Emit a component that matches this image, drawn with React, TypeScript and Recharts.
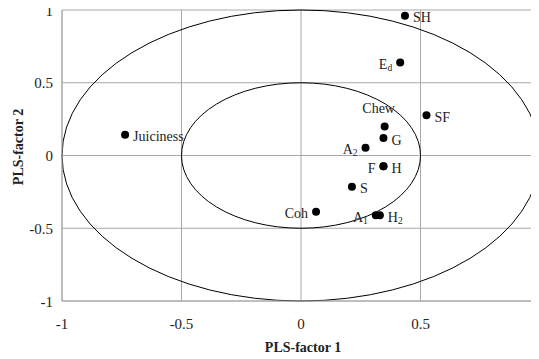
import React from 'react';
import { ScatterChart, Scatter, XAxis, YAxis, CartesianGrid, ReferenceArea } from 'recharts';

const pointBase = ['SH', 'E', 'SF', 'Chew', 'G', 'A', 'F', 'H', 'S', 'Coh', 'A', 'H', 'Juiciness'];
const pointSub = ['', 'd', '', '', '', '2', '', '', '', '', '1', '2', ''];
const factor1 = [0.435, 0.415, 0.525, 0.35, 0.345, 0.27, 0.345, 0.345, 0.213, 0.063, 0.313, 0.33, -0.736];
const factor2 = [0.96, 0.64, 0.276, 0.2, 0.12, 0.053, -0.074, -0.074, -0.214, -0.386, -0.41, -0.41, 0.143];
const labelSide = ['right', 'left', 'right', 'top', 'right', 'left', 'left', 'right', 'right', 'left', 'left', 'right', 'right'];

const xTicks = [-1, -0.5, 0, 0.5, 1];
const yTicks = [-1, -0.5, 0, 0.5, 1];
const outerRadius = 1;
const innerRadius = 0.5;

const data = pointBase.map((b, i) => ({
  x: factor1[i],
  y: factor2[i],
  base: b,
  sub: pointSub[i],
  side: labelSide[i],
}));

const FONT = '"Liberation Serif", "Times New Roman", serif';
const GRAY = '#a8a8a8';

const PointShape = (props: any) => {
  const { cx, cy, payload } = props;
  if (cx == null || cy == null) return null;
  let tx = cx + 8;
  let ty = cy + 6.5;
  let anchor: 'start' | 'end' | 'middle' = 'start';
  if (payload.side === 'left') {
    tx = cx - 8;
    anchor = 'end';
  } else if (payload.side === 'top') {
    tx = cx - 6;
    ty = cy - 13;
    anchor = 'middle';
  }
  return (
    <g>
      <circle cx={cx} cy={cy} r={4} fill="#000" />
      <text x={tx} y={ty} textAnchor={anchor} fontFamily={FONT} fontSize={14} fill="#222">
        {payload.base}
        {payload.sub ? (
          <tspan fontSize={9.5} dy={2}>
            {payload.sub}
          </tspan>
        ) : null}
      </text>
    </g>
  );
};

const EllipseShape = (props: any) => {
  const { x, y, width, height } = props;
  if (x == null) return null;
  return (
    <ellipse
      cx={x + width / 2}
      cy={y + height / 2}
      rx={Math.abs(width) / 2}
      ry={Math.abs(height) / 2}
      fill="none"
      stroke="#000"
      strokeWidth={1}
    />
  );
};

const XTick = (props: any) => {
  const { x, y, payload } = props;
  return (
    <text x={x} y={y + 28} textAnchor="middle" fontFamily={FONT} fontSize={15} fill="#222">
      {payload.value}
    </text>
  );
};

const YTick = (props: any) => {
  const { x, y, payload } = props;
  return (
    <text x={x - 9} y={y + 5.5} textAnchor="end" fontFamily={FONT} fontSize={15} fill="#222">
      {payload.value}
    </text>
  );
};

export default function App() {
  return (
    <div
      style={{
        width: 531,
        height: 359,
        marginTop: -8,
        paddingTop: 4,
        boxSizing: 'border-box',
        overflow: 'hidden',
      }}
    >
      <ScatterChart width={560} height={355} margin={{ top: 6, right: 28, bottom: 0, left: 0 }}>
        <CartesianGrid stroke={GRAY} strokeWidth={1} fill="none" />
        <XAxis
          type="number"
          dataKey="x"
          domain={[-1, 1]}
          ticks={xTicks}
          allowDataOverflow
          height={58}
          tickSize={0}
          tickMargin={0}
          axisLine={{ stroke: GRAY }}
          tickLine={false}
          tick={<XTick />}
          interval={0}
          label={{
            content: (p: any) => {
              const vb = p.viewBox || {};
              return (
                <text
                  x={vb.x + vb.width / 2 + 2}
                  y={347.5}
                  textAnchor="middle"
                  fontFamily={FONT}
                  fontWeight="bold"
                  fontSize={14}
                  fill="#222"
                >
                  PLS-factor 1
                </text>
              );
            },
          }}
        />
        <YAxis
          type="number"
          dataKey="y"
          domain={[-1, 1]}
          ticks={yTicks}
          allowDataOverflow
          width={54}
          tickSize={0}
          tickMargin={0}
          axisLine={{ stroke: GRAY }}
          tickLine={false}
          tick={<YTick />}
          interval={0}
          label={{
            content: () => (
              <text
                x={14.5}
                y={143}
                transform="rotate(-90, 14.5, 143)"
                textAnchor="middle"
                fontFamily={FONT}
                fontWeight="bold"
                fontSize={14}
                fill="#222"
              >
                PLS-factor 2
              </text>
            ),
          }}
        />
        <ReferenceArea
          x1={-outerRadius}
          x2={outerRadius}
          y1={-outerRadius}
          y2={outerRadius}
          ifOverflow="visible"
          shape={<EllipseShape />}
        />
        <ReferenceArea
          x1={-innerRadius}
          x2={innerRadius}
          y1={-innerRadius}
          y2={innerRadius}
          ifOverflow="visible"
          shape={<EllipseShape />}
        />
        <Scatter data={data} isAnimationActive={false} shape={<PointShape />} />
      </ScatterChart>
    </div>
  );
}
